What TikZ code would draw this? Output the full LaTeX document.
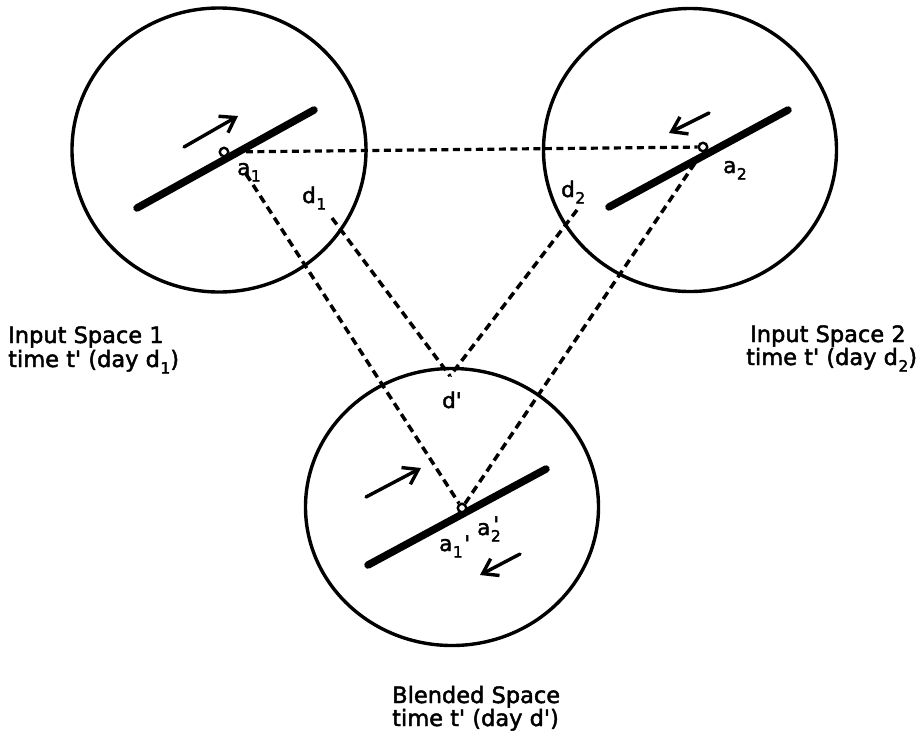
\documentclass[tikz,border=0pt]{standalone}
\usepackage{fontspec}
\setmainfont{DejaVu Sans}[Ligatures=TeXOff, FakeBold=2]
\usetikzlibrary{arrows.meta,shapes.geometric}
\newcommand\lsub[1]{\kern0.5pt\raisebox{-6.5pt}{\fontsize{15.5}{15.5}\selectfont #1}}
\begin{document}
\begin{tikzpicture}[x=1pt,y=-1pt,
  space/.style={draw, ellipse, line width=3.4pt, inner sep=0pt},
  bar/.style={line width=7.5pt, line cap=round},
  link/.style={line width=3.5pt, dash pattern=on 8pt off 5pt},
  motion/.style={line width=3.4pt, line cap=round, -{Straight Barb[length=14pt,width=19pt,line width=3.4pt]}},
  dotpt/.style={draw, circle, fill=white, line width=2.4pt, minimum size=8.5pt, inner sep=0pt},
  lab/.style={inner sep=0pt, anchor=base west, font=\fontsize{21.5}{22}\selectfont},
  captxt/.style={inner sep=0pt, anchor=base west, font=\fontsize{22.5}{24}\selectfont}]
\useasboundingbox (0,0) rectangle (920,740);
% spaces
\node[space, minimum width=294pt, minimum height=284pt] (s1) at (219,150) {};
\node[space, minimum width=293pt, minimum height=283pt] (s2) at (690,150) {};
\node[space, minimum width=293pt, minimum height=277pt] (s3) at (452,507) {};
% bars
\coordinate (b1s) at (137,208); \coordinate (b1e) at (314,110);
\coordinate (b2s) at (609,207); \coordinate (b2e) at (788,110);
\coordinate (b3s) at (368,565); \coordinate (b3e) at (546,469);
\draw[bar] (b1s) -- (b1e);
\draw[bar] (b2s) -- (b2e);
\draw[bar] (b3s) -- (b3e);
% motion arrows
\coordinate (m1s) at (184,147); \coordinate (m1e) at (238,116);
\coordinate (m2s) at (709,113); \coordinate (m2e) at (669,133);
\coordinate (m3s) at (366,497); \coordinate (m3e) at (421,468);
\coordinate (m4s) at (520,554); \coordinate (m4e) at (480,575);
\draw[motion] (m1s) -- (m1e);
\draw[motion] (m2s) -- (m2e);
\draw[motion] (m3s) -- (m3e);
\draw[motion] (m4s) -- (m4e);
% points
\node[dotpt] (p1) at (224,152) {};
\node[dotpt] (p2) at (703,147) {};
\node[dotpt] (p3) at (462,508) {};
% mapping links
\coordinate (q1) at (246,174);
\coordinate (q2) at (695,163);
\coordinate (d1s) at (332,218);
\coordinate (d2s) at (577,210);
\coordinate (dp) at (450,376);
\draw[link, dash pattern=on 7pt off 4.5pt, line width=3.2pt, shorten <=5pt] (p1) -- (p2);
\draw[link] (q1) -- (p3);
\draw[link] (q2) -- (p3);
\draw[link] (d1s) -- (dp);
\draw[link] (d2s) -- (dp);
% labels
\node[lab] (la1) at (237,175) {a\lsub{1}};
\node[lab] (ld1) at (302,203) {d\lsub{1}};
\node[lab] (la2) at (723,173) {a\lsub{2}};
\node[lab] (ld2) at (561,197) {d\lsub{2}};
\node[lab] (ldp) at (442,408) {d'};
\node[lab] (la1p) at (439,551) {a\lsub{1}\kern1.5pt'};
\node[lab] (la2p) at (477,535) {a\rlap{\lsub{2}}\kern3pt\raisebox{3pt}{'}};
% captions
\node[captxt] (t1a) at (8,343) {Input Space 1};
\node[captxt] (t1b) at (8,367) {time t' (day d\lsub{1})};
\node[captxt] (t2a) at (750,342) {Input Space 2};
\node[captxt] (t2b) at (746,365) {time t' (day d\lsub{2})};
\node[captxt] (t3a) at (392,703) {Blended Space};
\node[captxt] (t3b) at (392,726) {time t' (day d')};
\end{tikzpicture}
\end{document}
